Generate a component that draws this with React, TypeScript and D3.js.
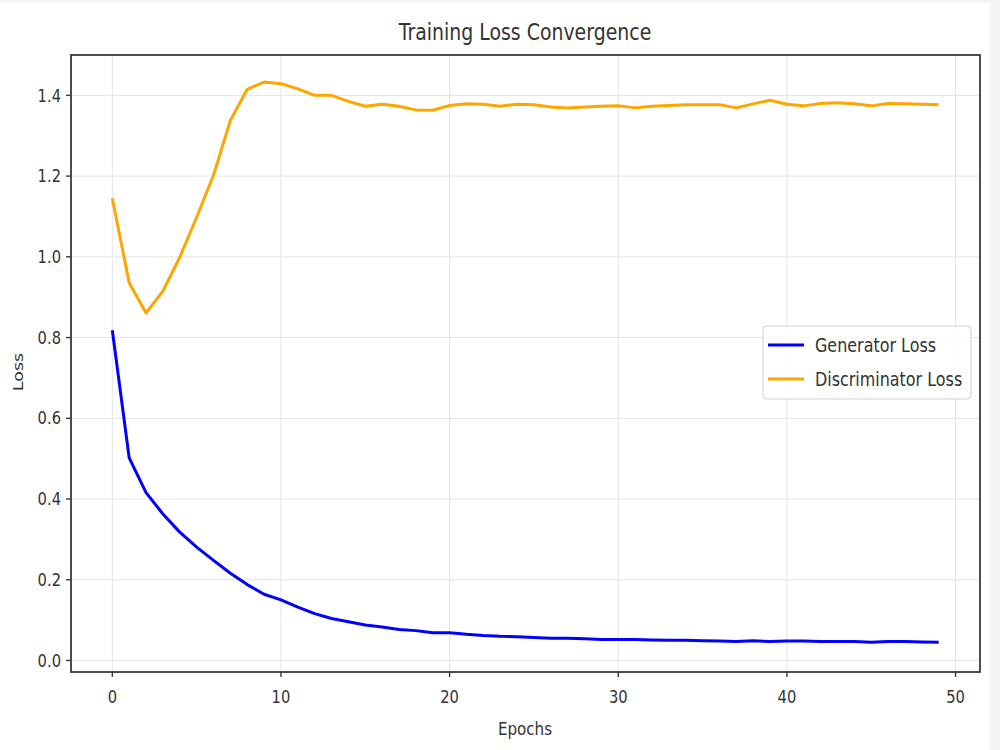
import React from "react";
import { scaleLinear, line } from "d3";

// chart data
const epochs = [
  0, 1, 2, 3, 4, 5, 6, 7, 8, 9, 10, 11, 12, 13, 14, 15, 16, 17, 18, 19, 20, 21, 22, 23, 24,
  25, 26, 27, 28, 29, 30, 31, 32, 33, 34, 35, 36, 37, 38, 39, 40, 41, 42, 43, 44, 45, 46, 47, 48, 49,
];
const generatorLoss = [
  0.818, 0.502, 0.416, 0.363, 0.318, 0.281, 0.248, 0.216, 0.188, 0.164,
  0.15, 0.132, 0.116, 0.104, 0.096, 0.088, 0.083, 0.077, 0.074, 0.069,
  0.069, 0.065, 0.062, 0.06, 0.059, 0.057, 0.055, 0.055, 0.054, 0.052,
  0.052, 0.052, 0.051, 0.05, 0.05, 0.049, 0.048, 0.047, 0.049, 0.047,
  0.048, 0.048, 0.047, 0.047, 0.047, 0.045, 0.047, 0.047, 0.046, 0.045,
];
const discriminatorLoss = [
  1.145, 0.935, 0.861, 0.915, 0.999, 1.098, 1.202, 1.338, 1.415, 1.433,
  1.429, 1.416, 1.4, 1.4, 1.385, 1.373, 1.378, 1.373, 1.364, 1.363,
  1.375, 1.379, 1.378, 1.373, 1.378, 1.377, 1.371, 1.369, 1.371, 1.373,
  1.374, 1.369, 1.373, 1.375, 1.377, 1.377, 1.377, 1.369, 1.379, 1.388,
  1.378, 1.374, 1.38, 1.382, 1.379, 1.374, 1.38, 1.379, 1.378, 1.377,
];
const xTicks = [0, 10, 20, 30, 40, 50];
const yTicks = [0, 0.2, 0.4, 0.6, 0.8, 1.0, 1.2, 1.4];
const seriesNames = ["Generator Loss", "Discriminator Loss"];
const seriesColors = ["#0000ff", "#ffa500"];

const width = 1000;
const height = 750;
const plot = { left: 71, right: 980, top: 55, bottom: 672 };
const SX = 0.84; // the reference text is squeezed horizontally
const font = "DejaVu Sans";
const textColor = "#333";

const xScale = scaleLinear().domain([-2.45, 51.45]).range([plot.left, plot.right]);
const yScale = scaleLinear().domain([-0.0285, 1.5]).range([plot.bottom, plot.top]);

function SqText({ x, y, size, anchor = "middle", rotate = false, children }: any) {
  return (
    <g transform={`translate(${x},${y}) scale(${SX},1)`}>
      <text
        transform={rotate ? "rotate(-90)" : undefined}
        textAnchor={anchor}
        dy="0.35em"
        fontSize={size}
        fontFamily={font}
        fill={textColor}
      >
        {children}
      </text>
    </g>
  );
}

export default function App() {
  const series = [generatorLoss, discriminatorLoss];
  const lineGen = line<number>()
    .x((d, i) => xScale(epochs[i]))
    .y((d) => yScale(d));

  return (
    <svg
      width={width}
      height={height}
      style={{ position: "absolute", left: 0, top: 0, display: "block" }}
    >
      <rect x={0} y={0} width={width} height={height} fill="#f4f5f7" />
      <rect x={0} y={3} width={990} height={height - 3} fill="#ffffff" />

      {/* grid */}
      <g stroke="#e4e4e4" strokeWidth={1}>
        {xTicks.map((t) => (
          <line key={"gx" + t} x1={xScale(t)} x2={xScale(t)} y1={plot.top} y2={plot.bottom} />
        ))}
        {yTicks.map((t) => (
          <line key={"gy" + t} x1={plot.left} x2={plot.right} y1={yScale(t)} y2={yScale(t)} />
        ))}
      </g>

      {/* lines */}
      {series.map((s, i) => (
        <path
          key={seriesNames[i]}
          d={lineGen(s) || ""}
          fill="none"
          stroke={seriesColors[i]}
          strokeWidth={3}
          strokeLinejoin="round"
        />
      ))}

      {/* spines */}
      <rect
        x={plot.left}
        y={plot.top}
        width={plot.right - plot.left}
        height={plot.bottom - plot.top}
        fill="none"
        stroke="#3a3a3a"
        strokeWidth={1.8}
      />

      {/* ticks */}
      <g stroke="#3a3a3a" strokeWidth={1.4}>
        {xTicks.map((t) => (
          <line key={"tx" + t} x1={xScale(t)} x2={xScale(t)} y1={plot.bottom} y2={plot.bottom + 5} />
        ))}
        {yTicks.map((t) => (
          <line key={"ty" + t} x1={plot.left - 5} x2={plot.left} y1={yScale(t)} y2={yScale(t)} />
        ))}
      </g>
      {xTicks.map((t) => (
        <SqText key={"lx" + t} x={xScale(t)} y={697} size={17.5}>
          {t}
        </SqText>
      ))}
      {yTicks.map((t) => (
        <SqText key={"ly" + t} x={plot.left - 10} y={yScale(t)} size={17.5} anchor="end">
          {t.toFixed(1)}
        </SqText>
      ))}

      {/* labels */}
      <SqText x={525} y={32} size={22.5}>
        Training Loss Convergence
      </SqText>
      <SqText x={525} y={729} size={18}>
        Epochs
      </SqText>
      <SqText x={18} y={372} size={17.5} rotate>
        Loss
      </SqText>

      {/* legend */}
      <rect
        x={763}
        y={326}
        width={208}
        height={73}
        rx={4}
        fill="#ffffff"
        fillOpacity={0.85}
        stroke="#d0d0d0"
        strokeWidth={1}
      />
      {seriesNames.map((name, i) => (
        <g key={"leg" + name}>
          <line
            x1={768}
            x2={804}
            y1={345 + i * 34}
            y2={345 + i * 34}
            stroke={seriesColors[i]}
            strokeWidth={3}
          />
          <SqText x={815} y={345 + i * 34} size={19} anchor="start">
            {name}
          </SqText>
        </g>
      ))}
    </svg>
  );
}
